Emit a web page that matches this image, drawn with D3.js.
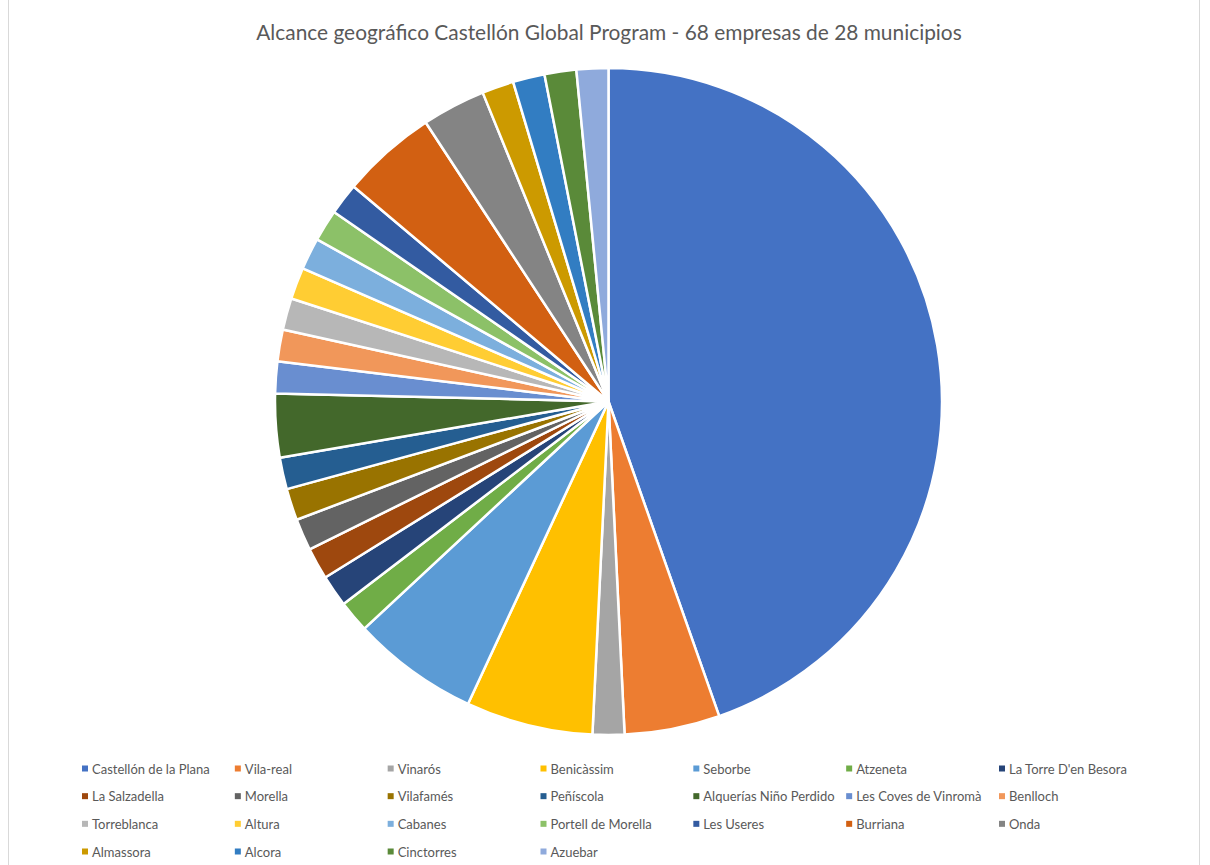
<!DOCTYPE html>
<html>
<head>
<meta charset="utf-8">
<script src="https://cdn.jsdelivr.net/npm/d3@7"></script>
<style>
  html, body { margin: 0; padding: 0; background: #fff; }
  svg { display: block; }
</style>
</head>
<body>
<svg id="chart" width="1210" height="865"></svg>
<script>
const categories = ["Castellón de la Plana","Vila-real","Vinarós","Benicàssim","Seborbe","Atzeneta","La Torre D'en Besora",
  "La Salzadella","Morella","Vilafamés","Peñíscola","Alquerías Niño Perdido","Les Coves de Vinromà","Benlloch",
  "Torreblanca","Altura","Cabanes","Portell de Morella","Les Useres","Burriana","Onda",
  "Almassora","Alcora","Cinctorres","Azuebar"];
const values = [29,3,1,4,4,1,1, 1,1,1,1,2,1,1, 1,1,1,1,1,3,2, 1,1,1,1];
const colors = ["#4472C4","#ED7D31","#A5A5A5","#FFC000","#5B9BD5","#70AD47","#264478",
  "#9E480E","#636363","#997300","#255E91","#43682B","#698ED0","#F1975A",
  "#B7B7B7","#FFCD33","#7CAFDD","#8CC168","#335BA1","#D26012","#848484",
  "#CC9A00","#327DC2","#5A8A39","#8FAADC"];
const title = "Alcance geográfico Castellón Global Program - 68 empresas de 28 municipios";

const svg = d3.select("#chart");
const W = 1210, H = 865;

// chart frame
svg.append("rect").attr("x", 8.5).attr("y", -1).attr("width", 1191).attr("height", H + 2)
  .attr("fill", "#fff").attr("stroke", "#d9d9d9").attr("stroke-width", 1);

// title
const t = svg.append("text").attr("x", 609).attr("y", 40)
  .attr("text-anchor", "middle").attr("fill", "#595959")
  .style("font-family", "Lato, 'Open Sans', sans-serif").style("font-size", "19px")
  .text(title);
const tl = t.node().getComputedTextLength();
t.style("font-size", (19 * 706 / tl).toFixed(2) + "px");

// pie
const cx = 608.5, cy = 401.5, r = 333.5;
const pie = d3.pie().value(d => d).sort(null).startAngle(0).endAngle(2 * Math.PI);
const arc = d3.arc().innerRadius(0).outerRadius(r);
const g = svg.append("g").attr("transform", `translate(${cx},${cy})`);
g.selectAll("path").data(pie(values)).join("path")
  .attr("d", arc)
  .attr("fill", (d, i) => colors[i])
  .attr("stroke", "#fff").attr("stroke-width", 2.5).attr("stroke-linejoin", "round");

// legend
const colX = d3.scaleLinear().domain([0, 6]).range([82, 999]);
const rowY = d3.scaleLinear().domain([0, 3]).range([769, 852]);
const leg = svg.append("g");
categories.forEach((c, i) => {
  const col = i % 7, row = Math.floor(i / 7);
  const x = colX(col), y = rowY(row);
  leg.append("rect").attr("x", x).attr("y", y - 3.5).attr("width", 6).attr("height", 6).attr("fill", colors[i]);
  leg.append("text").attr("x", x + 10).attr("y", y + 4.5)
    .attr("fill", "#595959")
    .style("font-family", "Lato, 'Open Sans', sans-serif").style("font-size", "13px")
    .text(c);
});
</script>
</body>
</html>
